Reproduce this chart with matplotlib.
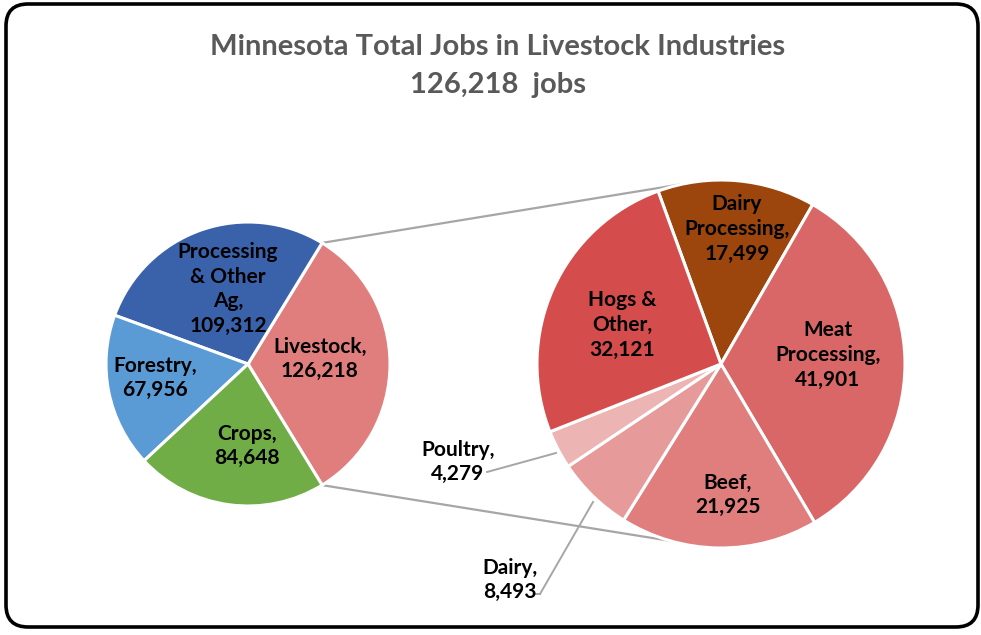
import matplotlib
matplotlib.use("Agg")
import matplotlib.pyplot as plt
from matplotlib.patches import FancyBboxPatch
import numpy as np

plt.rcParams['font.family'] = ['Lato', 'DejaVu Sans']

# ---- data ----
left_labels = ["Livestock", "Processing\n& Other\nAg", "Forestry", "Crops"]
left_values = [126218, 109312, 67956, 84648]
left_colors = ["#E07E7E", "#3A62AB", "#5B9BD5", "#70AD47"]

right_labels = ["Dairy\nProcessing", "Meat\nProcessing", "Beef", "Dairy", "Poultry", "Hogs &\nOther"]
right_values = [17499, 41901, 21925, 8493, 4279, 32121]
right_colors = ["#9C450D", "#D96767", "#E07E7E", "#E69A9A", "#EDB4B4", "#D44C4C"]

title_text = "Minnesota Total Jobs in Livestock Industries\n126,218  jobs"

W, H = 981, 635
fig = plt.figure(figsize=(W / 100, H / 100), dpi=100)
ax = fig.add_axes([0, 0, 1, 1])

def py(y):
    return H - y

# layout
lc, lr = (248, py(364)), 142
rc, rr = (721, py(364)), 184

left_start = -180 * left_values[0] / sum(left_values)
wl, _ = ax.pie(left_values, center=lc, radius=lr, startangle=left_start,
               counterclock=True, colors=left_colors,
               wedgeprops=dict(edgecolor="white", linewidth=2.2), frame=False)
for w in wl:
    w.set_zorder(3)
wr, _ = ax.pie(right_values, center=rc, radius=rr, startangle=110,
               counterclock=False, colors=right_colors,
               wedgeprops=dict(edgecolor="white", linewidth=2.2), frame=False)
for w in wr:
    w.set_zorder(3)

# connector lines
a_top = np.deg2rad(wl[0].theta2)
a_bot = np.deg2rad(wl[0].theta1)
p1 = (lc[0] + lr * np.cos(a_top), lc[1] + lr * np.sin(a_top))
p2 = (lc[0] + lr * np.cos(a_bot), lc[1] + lr * np.sin(a_bot))
q1 = (rc[0] + rr * np.cos(np.deg2rad(102)), rc[1] + rr * np.sin(np.deg2rad(102)))
q2 = (rc[0] + rr * np.cos(np.deg2rad(-106)), rc[1] + rr * np.sin(np.deg2rad(-106)))
ax.plot([p1[0], q1[0]], [p1[1], q1[1]], color="#A6A6A6", lw=1.6, zorder=1)
ax.plot([p2[0], q2[0]], [p2[1], q2[1]], color="#A6A6A6", lw=1.6, zorder=1)

def fmt(v):
    return f"{v:,}"

lab_kw = dict(ha="center", va="center", fontsize=15, fontweight="bold",
              color="black", linespacing=1.3, zorder=5)

left_pos = [(320, 359), (228, 289), (155, 378), (247, 446)]
for lab, v, (x, y) in zip(left_labels, left_values, left_pos):
    ax.text(x, py(y), f"{lab},\n{fmt(v)}", **lab_kw)

# order matches right_labels: Dairy Proc, Meat, Beef, Dairy, Poultry, Hogs
right_pos = [(737, 229), (828, 355), (728, 495), (510, 580), (458, 462), (622, 325)]
for lab, v, (x, y) in zip(right_labels, right_values, right_pos):
    ax.text(x, py(y), f"{lab},\n{fmt(v)}", **lab_kw)

# leader lines for small slices
ax.plot([487, 556], [py(472), py(453)], color="#A6A6A6", lw=1.4, zorder=4)
ax.plot([540, 593], [py(594), py(502)], color="#A6A6A6", lw=1.4, zorder=4)
ax.plot([535, 540], [py(594), py(594)], color="#A6A6A6", lw=1.4, zorder=4)

ax.text(W / 2 + 7, py(66), title_text, ha="center", va="center", fontsize=21,
        fontweight="bold", color="#595959", linespacing=1.6)

border = FancyBboxPatch((6, 8), W - 6 - 3, H - 8 - 4,
                        boxstyle="round,pad=0,rounding_size=22",
                        fc="none", ec="black", lw=2.6, transform=ax.transData,
                        zorder=6)
ax.add_patch(border)

ax.set_xlim(0, W)
ax.set_ylim(0, H)
ax.set_aspect("auto")
ax.axis("off")

fig.savefig("out.png", dpi=100)
